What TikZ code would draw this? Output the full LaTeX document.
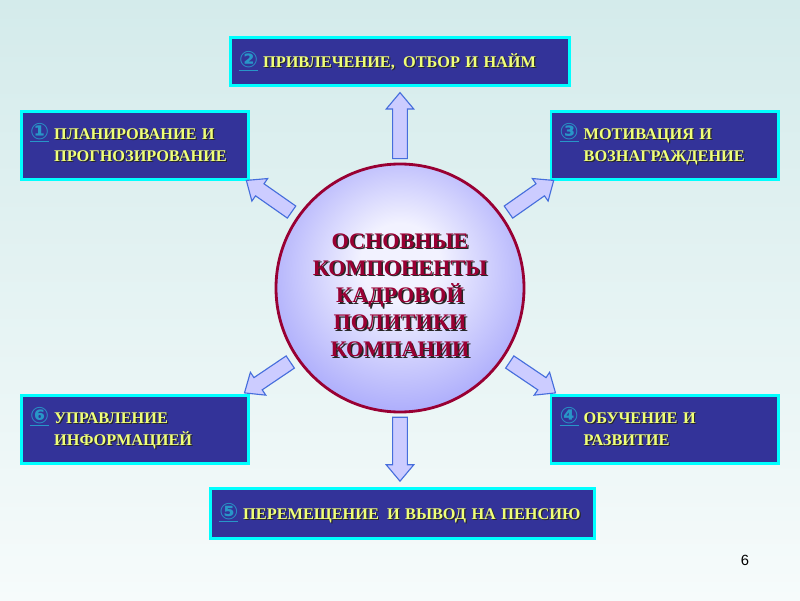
\documentclass[tikz,border=0pt]{standalone}
\usepackage{fontspec}
\setmainfont{Liberation Serif}
\newfontfamily\dejavu{DejaVu Sans}
\newfontfamily\arial{Liberation Sans}
\usetikzlibrary{shapes.arrows,calc}
\definecolor{boxblue}{RGB}{51,51,153}
\definecolor{edgecyan}{RGB}{0,255,255}
\definecolor{textyellow}{RGB}{240,255,120}
\definecolor{digitblue}{RGB}{40,150,200}
\definecolor{darkred}{RGB}{153,0,51}
\definecolor{arrowfill}{RGB}{204,204,255}
\definecolor{arrowedge}{RGB}{70,110,220}
\definecolor{bgtop}{RGB}{212,235,235}
\definecolor{bgbottom}{RGB}{246,251,251}
\definecolor{ballin}{RGB}{242,242,255}
\definecolor{ballout}{RGB}{145,145,250}
\pgfdeclareradialshading{ballshade}{\pgfpoint{0bp}{6bp}}{color(0bp)=(ballin); color(8bp)=(ballin); color(36bp)=(ballout); color(50bp)=(ballout)}
% text with a dark drop shadow
\newcommand\shd[1]{\mbox{\rlap{\kern0.07em\raisebox{-0.07em}{\color{black!85}#1}}#1}}
% underlined circled number
\newcommand\num[1]{{\color{digitblue}\underline{\fontsize{16}{16}\selectfont\dejavu #1}}}
\begin{document}
\begin{tikzpicture}[
	box/.style={rectangle, draw=edgecyan, line width=2pt, fill=boxblue, text=textyellow,
		font=\fontsize{11.6}{15.5}\selectfont\bfseries, align=left, inner xsep=0.22cm},
	blockarrow/.style={single arrow, draw=arrowedge, line width=0.8pt, fill=arrowfill,
		inner sep=0.17cm, single arrow head extend=0.16cm, single arrow tip angle=80}]
	\useasboundingbox (0,0) rectangle (20,15);
	% Background
	\shade[top color=bgtop, bottom color=bgbottom] (0,0) rectangle (20,15);
	% Centre
	\node [circle, draw=darkred, line width=2pt, shading=ballshade,
	minimum size=6.2cm] (core) at (10,7.8) {};
	\node [text=darkred, align=center, font=\fontsize{15.8}{19.3}\selectfont\bfseries] (title)
	at ($(core.center)+(0,-0.2)$)
	{\shd{ОСНОВНЫЕ}\\\shd{КОМПОНЕНТЫ}\\\shd{КАДРОВОЙ}\\\shd{ПОЛИТИКИ}\\\shd{КОМПАНИИ}};
	% Place nodes
	\node [box, minimum width=5.68cm, minimum height=1.7cm, text width=5.24cm] (plan) at (3.375,11.3625)
	{\begin{tabular}{@{}l@{\hspace{0.3em}}l@{}}\num{①} & \shd{ПЛАНИРОВАНИЕ И}\\ & \shd{ПРОГНОЗИРОВАНИЕ}\end{tabular}};
	\node [box, minimum width=8.48cm, minimum height=1.2cm, text width=8.04cm] (hire) at (10,13.4625)
	{\num{②}\hspace{0.3em}\shd{ПРИВЛЕЧЕНИЕ,\,\ ОТБОР И НАЙМ}};
	\node [box, minimum width=5.68cm, minimum height=1.7cm, text width=5.24cm] (motiv) at (16.6125,11.3625)
	{\begin{tabular}{@{}l@{\hspace{0.3em}}l@{}}\num{③} & \shd{МОТИВАЦИЯ И}\\ & \shd{ВОЗНАГРАЖДЕНИЕ}\end{tabular}};
	\node [box, minimum width=5.68cm, minimum height=1.7cm, text width=5.24cm] (train) at (16.6125,4.2625)
	{\begin{tabular}{@{}l@{\hspace{0.3em}}l@{}}\num{④} & \shd{ОБУЧЕНИЕ И}\\ & \shd{РАЗВИТИЕ}\end{tabular}};
	\node [box, minimum width=9.6cm, minimum height=1.25cm, text width=9.16cm] (move) at (10.0625,2.1625)
	{\num{⑤}\hspace{0.3em}\shd{ПЕРЕМЕЩЕНИЕ\,\ И ВЫВОД НА ПЕНСИЮ}};
	\node [box, minimum width=5.68cm, minimum height=1.7cm, text width=5.24cm] (info) at (3.375,4.2625)
	{\begin{tabular}{@{}l@{\hspace{0.3em}}l@{}}\num{⑥} & \shd{УПРАВЛЕНИЕ}\\ & \shd{ИНФОРМАЦИЕЙ}\end{tabular}};
	% Arrows
	\node [blockarrow, rotate=90, minimum height=1.65cm] (aup) at ($(core.center)+(90:3.95)$) {};
	\node [blockarrow, rotate=-90, minimum height=1.6cm] (adown) at ($(core.center)+(-90:3.92)$) {};
	\foreach \ang/\nm in {145/aul, 35/aur, -34/alr, -146/all}
	\node [blockarrow, rotate=\ang, minimum height=1.38cm] (\nm) at ($(core.center)+(\ang:3.89)$) {};
	% Slide number
	\node [font=\arial\fontsize{10.5}{10.5}\selectfont] (page) at (18.625,1.0) {6};
\end{tikzpicture}
\end{document}
